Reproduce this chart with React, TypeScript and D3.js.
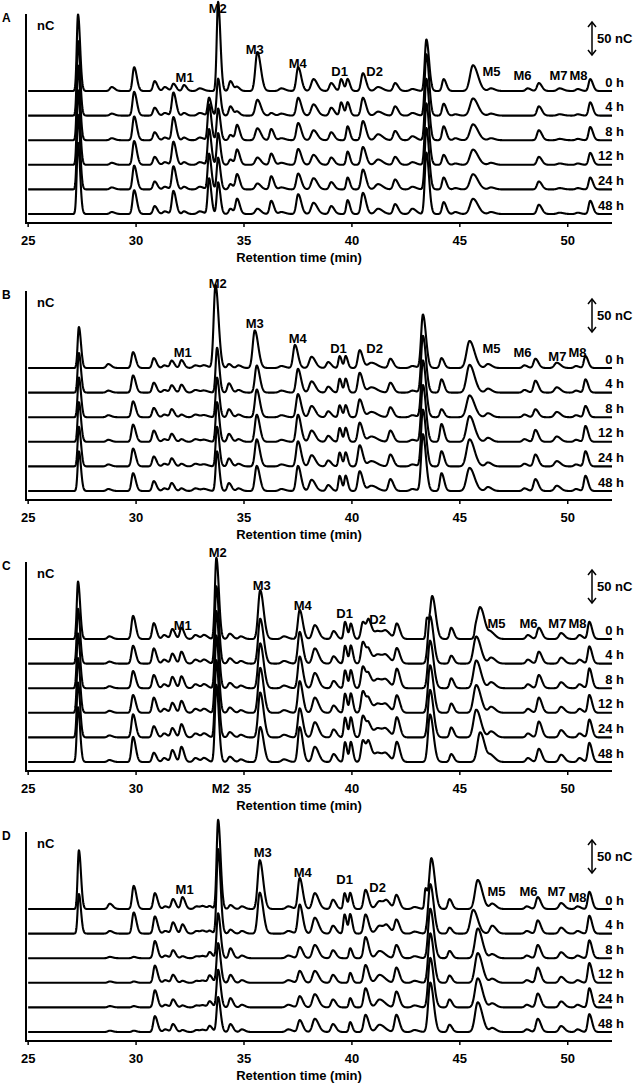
import React from 'react';
import * as d3 from 'd3';

// ---------------- DATA ----------------
const HOURS = ['0 h', '4 h', '8 h', '12 h', '24 h', '48 h'];
const X_TICKS = [25, 30, 35, 40, 45, 50];
const PANEL_IDS = ['A', 'B', 'C', 'D'];
const SCALE_BAR_NC = 50;
const TIME_START = 25.0;
const TIME_END = 52.05;

// [retention time (min), peak sigma (min), heights (nC) for 0,4,8,12,24,48 h]
type Peak = [number, number, number[]];

const PEAKS_A: Peak[] = [
  [27.31, 0.055, [116, 113, 113, 113, 113, 108]],
  [28.87, 0.08, [6, 3, 3, 3, 3, 3]],
  [29.91, 0.07, [36, 36, 36, 36, 36, 36]],
  [30.86, 0.07, [15, 12, 12, 12, 12, 12]],
  [31.33, 0.08, [6, 4, 4, 4, 4, 4]],
  [31.73, 0.07, [11, 35, 35, 35, 35, 35]],
  [32.22, 0.07, [9, 4, 4, 4, 4, 4]],
  [32.95, 0.1, [4, 4, 4, 4, 4, 4]],
  [33.38, 0.06, [0, 27, 54, 54, 54, 54]],
  [33.8, 0.06, [135, 56, 48, 48, 48, 48]],
  [34.37, 0.07, [15, 14, 8, 8, 8, 8]],
  [34.68, 0.07, [6, 6, 23, 23, 23, 23]],
  [35.62, 0.09, [59, 24, 18, 11, 9, 8]],
  [36.26, 0.07, [0, 4, 17, 17, 20, 20]],
  [36.73, 0.1, [4, 3, 3, 3, 3, 3]],
  [37.51, 0.08, [36, 27, 26, 24, 24, 30]],
  [38.22, 0.1, [18, 17, 15, 15, 17, 17]],
  [39.04, 0.08, [12, 12, 12, 11, 11, 12]],
  [39.5, 0.06, [18, 20, 0, 0, 0, 0]],
  [39.8, 0.06, [18, 20, 21, 20, 18, 21]],
  [40.51, 0.08, [27, 27, 29, 27, 30, 32]],
  [41.21, 0.12, [6, 6, 9, 8, 8, 8]],
  [42.0, 0.08, [12, 14, 14, 12, 15, 15]],
  [42.8, 0.1, [3, 4, 6, 4, 4, 8]],
  [43.45, 0.07, [78, 93, 93, 93, 93, 93]],
  [44.25, 0.07, [18, 18, 21, 15, 18, 18]],
  [44.79, 0.08, [0, 2, 3, 2, 2, 3]],
  [45.61, 0.13, [39, 26, 24, 23, 23, 23]],
  [46.44, 0.1, [4, 3, 3, 3, 3, 3]],
  [48.14, 0.08, [4, 0, 0, 0, 0, 0]],
  [48.66, 0.08, [12, 14, 15, 12, 12, 14]],
  [49.62, 0.1, [4, 2, 2, 2, 2, 2]],
  [50.46, 0.08, [3, 2, 2, 2, 2, 2]],
  [51.04, 0.07, [18, 20, 20, 18, 18, 20]],
];

const PEAKS_B: Peak[] = [
  [27.35, 0.055, [62, 60, 60, 60, 60, 60]],
  [28.71, 0.08, [6, 3, 3, 3, 3, 3]],
  [29.86, 0.07, [24, 26, 24, 26, 27, 27]],
  [30.82, 0.07, [15, 15, 14, 17, 15, 15]],
  [31.31, 0.08, [4, 4, 4, 4, 4, 4]],
  [31.65, 0.07, [11, 11, 12, 12, 12, 12]],
  [32.1, 0.07, [12, 12, 4, 4, 4, 4]],
  [32.75, 0.1, [4, 4, 4, 4, 4, 4]],
  [33.15, 0.1, [4, 3, 3, 3, 3, 3]],
  [33.68, 0.08, [126, 0, 0, 0, 0, 0]],
  [33.75, 0.06, [0, 68, 60, 60, 60, 60]],
  [34.3, 0.07, [6, 14, 12, 12, 12, 12]],
  [34.74, 0.08, [4, 4, 4, 4, 4, 4]],
  [35.5, 0.09, [57, 0, 0, 0, 0, 0]],
  [35.59, 0.08, [0, 41, 42, 41, 41, 38]],
  [36.73, 0.1, [3, 3, 3, 3, 3, 3]],
  [37.36, 0.08, [35, 0, 0, 0, 0, 0]],
  [37.5, 0.08, [0, 36, 35, 41, 38, 38]],
  [38.13, 0.1, [17, 17, 17, 17, 17, 17]],
  [38.9, 0.08, [9, 9, 9, 9, 9, 9]],
  [39.43, 0.055, [18, 21, 18, 21, 21, 23]],
  [39.71, 0.055, [18, 21, 18, 21, 21, 23]],
  [40.36, 0.08, [27, 30, 27, 29, 32, 30]],
  [40.9, 0.15, [8, 8, 8, 8, 8, 8]],
  [41.78, 0.08, [14, 15, 15, 17, 18, 18]],
  [42.8, 0.1, [3, 3, 3, 3, 3, 3]],
  [43.29, 0.08, [81, 86, 86, 86, 86, 86]],
  [44.15, 0.07, [15, 20, 12, 27, 23, 27]],
  [45.45, 0.13, [41, 42, 33, 39, 41, 35]],
  [46.3, 0.1, [6, 6, 6, 6, 6, 6]],
  [47.99, 0.08, [4, 4, 4, 4, 4, 4]],
  [48.5, 0.08, [14, 18, 12, 18, 18, 18]],
  [49.49, 0.1, [8, 8, 8, 8, 8, 8]],
  [50.38, 0.08, [3, 3, 3, 3, 3, 3]],
  [50.82, 0.07, [18, 20, 17, 24, 23, 23]],
];

const PEAKS_C: Peak[] = [
  [27.31, 0.055, [87, 83, 83, 83, 83, 83]],
  [28.76, 0.08, [4, 3, 3, 3, 3, 3]],
  [29.86, 0.07, [35, 27, 26, 27, 35, 38]],
  [30.82, 0.07, [24, 23, 20, 23, 17, 14]],
  [31.3, 0.08, [6, 6, 6, 6, 6, 6]],
  [31.68, 0.07, [15, 15, 17, 15, 14, 18]],
  [32.1, 0.07, [17, 18, 18, 18, 20, 23]],
  [32.75, 0.09, [6, 6, 6, 6, 6, 6]],
  [33.15, 0.09, [6, 6, 6, 6, 6, 6]],
  [33.72, 0.065, [123, 117, 117, 117, 117, 117]],
  [34.34, 0.08, [8, 8, 8, 8, 8, 8]],
  [34.85, 0.08, [4, 4, 4, 4, 4, 4]],
  [35.75, 0.09, [74, 68, 68, 68, 68, 53]],
  [36.85, 0.1, [4, 4, 4, 4, 4, 4]],
  [37.58, 0.08, [44, 48, 48, 48, 44, 53]],
  [38.28, 0.1, [21, 23, 23, 23, 23, 23]],
  [39.15, 0.08, [12, 11, 11, 11, 12, 12]],
  [39.68, 0.055, [26, 27, 27, 29, 30, 30]],
  [39.95, 0.055, [23, 27, 27, 29, 30, 30]],
  [40.51, 0.08, [26, 33, 33, 33, 33, 33]],
  [40.78, 0.08, [26, 18, 18, 18, 18, 27]],
  [41.2, 0.15, [12, 14, 14, 14, 14, 14]],
  [41.59, 0.12, [9, 9, 9, 9, 9, 9]],
  [42.08, 0.08, [23, 23, 29, 26, 30, 30]],
  [43.47, 0.045, [30, 0, 0, 0, 0, 0]],
  [43.62, 0.09, [0, 72, 72, 72, 72, 72]],
  [43.72, 0.09, [65, 0, 0, 0, 0, 0]],
  [44.6, 0.07, [17, 12, 15, 14, 15, 12]],
  [45.73, 0.045, [11, 0, 0, 0, 0, 0]],
  [45.76, 0.12, [0, 41, 42, 42, 42, 0]],
  [45.94, 0.12, [48, 0, 0, 0, 0, 45]],
  [46.45, 0.11, [9, 9, 9, 9, 9, 9]],
  [48.15, 0.08, [6, 6, 6, 6, 6, 6]],
  [48.66, 0.08, [17, 18, 20, 23, 24, 20]],
  [49.69, 0.09, [9, 9, 9, 9, 11, 11]],
  [50.54, 0.08, [6, 6, 6, 6, 6, 6]],
  [51.0, 0.07, [26, 26, 30, 27, 27, 29]],
];

const PEAKS_D: Peak[] = [
  [27.35, 0.055, [89, 60, 0, 0, 0, 0]],
  [28.78, 0.08, [8, 4, 2, 2, 2, 2]],
  [29.89, 0.07, [35, 32, 2, 2, 2, 2]],
  [30.87, 0.07, [24, 26, 26, 26, 26, 24]],
  [31.35, 0.08, [4, 4, 4, 4, 4, 4]],
  [31.71, 0.07, [15, 17, 12, 12, 12, 12]],
  [32.15, 0.07, [18, 14, 3, 3, 3, 3]],
  [32.8, 0.09, [4, 4, 3, 3, 3, 3]],
  [33.1, 0.09, [4, 4, 3, 3, 3, 3]],
  [33.41, 0.07, [4, 4, 9, 11, 9, 9]],
  [33.8, 0.065, [135, 128, 68, 60, 57, 53]],
  [34.37, 0.07, [6, 6, 15, 12, 14, 12]],
  [34.9, 0.08, [4, 4, 4, 4, 4, 4]],
  [35.73, 0.09, [74, 62, 0, 0, 0, 0]],
  [37.05, 0.1, [4, 4, 4, 4, 4, 4]],
  [37.58, 0.08, [47, 44, 17, 18, 17, 18]],
  [38.28, 0.1, [24, 24, 20, 18, 20, 20]],
  [39.12, 0.08, [14, 12, 12, 12, 12, 12]],
  [39.66, 0.055, [24, 29, 0, 0, 0, 0]],
  [39.92, 0.055, [24, 29, 15, 15, 14, 15]],
  [40.63, 0.08, [29, 29, 32, 27, 29, 26]],
  [41.28, 0.14, [12, 12, 11, 12, 12, 11]],
  [41.62, 0.1, [9, 9, 0, 0, 0, 0]],
  [42.06, 0.08, [21, 21, 20, 23, 24, 26]],
  [42.9, 0.1, [3, 3, 3, 3, 3, 3]],
  [43.41, 0.045, [30, 0, 0, 0, 0, 0]],
  [43.63, 0.09, [0, 75, 75, 75, 75, 75]],
  [43.68, 0.09, [77, 0, 0, 0, 0, 0]],
  [44.52, 0.07, [15, 9, 11, 11, 12, 11]],
  [45.62, 0.12, [0, 36, 0, 0, 0, 0]],
  [45.83, 0.12, [44, 0, 45, 45, 44, 45]],
  [46.5, 0.1, [8, 12, 6, 6, 6, 6]],
  [48.1, 0.08, [4, 4, 4, 4, 4, 4]],
  [48.61, 0.08, [18, 20, 20, 23, 21, 20]],
  [49.69, 0.09, [9, 9, 9, 9, 9, 9]],
  [50.45, 0.08, [4, 4, 4, 4, 4, 4]],
  [51.0, 0.07, [26, 27, 27, 30, 29, 27]],
];

// [label, retention time (min), level in nC above the 0 h baseline]
type PeakLabel = [string, number, number];

const LABELS_A: PeakLabel[] = [
  ['M1', 32.25, 21], ['M2', 33.78, 125], ['M3', 35.5, 63], ['M4', 37.49, 42],
  ['D1', 39.43, 29], ['D2', 41.05, 29], ['M5', 46.47, 29], ['M6', 47.9, 23],
  ['M7', 49.57, 23], ['M8', 50.5, 23],
];
const LABELS_B: PeakLabel[] = [
  ['M1', 32.16, 24], ['M2', 33.78, 128], ['M3', 35.5, 68], ['M4', 37.49, 45],
  ['D1', 39.38, 29], ['D2', 41.05, 29], ['M5', 46.47, 29], ['M6', 47.9, 23],
  ['M7', 49.52, 17], ['M8', 50.45, 24],
];
const LABELS_C: PeakLabel[] = [
  ['M1', 32.16, 21], ['M2', 33.78, 131], ['M3', 35.82, 81], ['M4', 37.72, 51],
  ['D1', 39.66, 39], ['D2', 41.19, 29], ['M5', 46.7, 24], ['M6', 48.18, 24],
  ['M7', 49.52, 24], ['M8', 50.45, 24],
];
const LABELS_D: PeakLabel[] = [
  ['M1', 32.25, 29], ['M3', 35.87, 86], ['M4', 37.72, 56],
  ['D1', 39.66, 45], ['D2', 41.19, 33], ['M5', 46.7, 27], ['M6', 48.18, 27],
  ['M7', 49.48, 27], ['M8', 50.45, 18],
];
// labels written under the time axis: [label, retention time]
const AXIS_LABELS_C: [string, number][] = [['M2', 33.92]];

const PANEL_PEAKS = [PEAKS_A, PEAKS_B, PEAKS_C, PEAKS_D];
const PANEL_LABELS = [LABELS_A, LABELS_B, LABELS_C, LABELS_D];
const PANEL_AXIS_LABELS: [string, number][][] = [[], [], AXIS_LABELS_C, []];

// ---------------- LAYOUT ----------------
const W = 633;
const H = 1083;
const AXIS_Y = [223, 500, 771, 1041];
const BASE0 = 132; // 0 h baseline above the axis (px)
const TRACE_GAP = 24.6;
const TAIL = 1.75; // peak tailing factor
const FONT = '"Liberation Sans", Arial, Helvetica, sans-serif';

const x = d3.scaleLinear().domain([24.9, 52.05]).range([26, 612]);
const yNc = d3.scaleLinear().domain([0, 50]).range([0, -33]);

const TIMES = d3.range(TIME_START, TIME_END + 1e-9, 0.01);

function signal(peaks: Peak[], k: number, t: number): number {
  let s = 0;
  for (const [t0, w, hs] of peaks) {
    const h = hs[k];
    if (!h) continue;
    const d = t - t0;
    const sg = d < 0 ? w * 1.05 : w * TAIL;
    if (Math.abs(d) > 6 * sg) continue;
    s += h * Math.exp((-d * d) / (2 * sg * sg));
  }
  return s;
}

function Panel({ idx }: { idx: number }) {
  const ay = AXIS_Y[idx];
  const peaks = PANEL_PEAKS[idx];
  const labels = PANEL_LABELS[idx];
  const base0 = -BASE0;
  const traces = HOURS.map((hr, k) => {
    const base = base0 + k * TRACE_GAP;
    const line = d3
      .line<number>()
      .x((t) => x(t))
      .y((t) => base + yNc(signal(peaks, k, t)));
    return { hr, base, d: line(TIMES) || '' };
  });
  const barTop = -201;
  const barBot = barTop + Math.abs(yNc(SCALE_BAR_NC));
  const textStyle = { fontFamily: FONT, fontWeight: 700, fontSize: 13 } as const;
  return (
    <g transform={`translate(0,${ay})`}>
      {/* axes */}
      <line x1={x.range()[0]} x2={x.range()[0]} y1={-209} y2={0} stroke="#000" strokeWidth={2} />
      <line x1={x.range()[0] - 1} x2={x.range()[1]} y1={0} y2={0} stroke="#000" strokeWidth={2} />
      {X_TICKS.map((t) => (
        <g key={t}>
          <line x1={x(t)} x2={x(t)} y1={0} y2={4} stroke="#000" strokeWidth={1.5} />
          <text x={x(t)} y={17} textAnchor="middle" dominantBaseline="central" style={textStyle}>
            {t}
          </text>
        </g>
      ))}
      <text x={299} y={34} textAnchor="middle" dominantBaseline="central" style={textStyle}>
        Retention time (min)
      </text>
      <text x={2} y={-205} dominantBaseline="central" style={{ ...textStyle, fontSize: 12 }}>
        {PANEL_IDS[idx]}
      </text>
      <text x={37} y={-198} dominantBaseline="central" style={textStyle}>
        nC
      </text>
      {/* traces */}
      {traces.map((tr) => (
        <path key={tr.hr} d={tr.d} fill="none" stroke="#000" strokeWidth={2.1} strokeLinejoin="round" />
      ))}
      {traces.map((tr) => (
        <text key={tr.hr + 'l'} x={624} y={tr.base - 9} textAnchor="end" dominantBaseline="central" style={textStyle}>
          {tr.hr}
        </text>
      ))}
      {/* peak labels */}
      {labels.map(([lab, t, lvl], i) => (
        <text key={i} x={x(t)} y={base0 + yNc(lvl)} textAnchor="middle" dominantBaseline="central" style={textStyle}>
          {lab}
        </text>
      ))}
      {PANEL_AXIS_LABELS[idx].map(([lab, t], i) => (
        <text key={'a' + i} x={x(t)} y={17} textAnchor="middle" dominantBaseline="central" style={textStyle}>
          {lab}
        </text>
      ))}
      {/* scale bar */}
      <line x1={592} x2={592} y1={barTop + 1} y2={barBot - 1} stroke="#000" strokeWidth={1.5} />
      <path d={`M588,${barTop + 5} L592,${barTop} L596,${barTop + 5}`} fill="none" stroke="#000" strokeWidth={1.5} />
      <path d={`M588,${barBot - 5} L592,${barBot} L596,${barBot - 5}`} fill="none" stroke="#000" strokeWidth={1.5} />
      <text x={597} y={(barTop + barBot) / 2} dominantBaseline="central" style={textStyle}>
        {SCALE_BAR_NC} nC
      </text>
    </g>
  );
}

export default function App() {
  return (
    <svg
      width={W}
      height={H}
      viewBox={`0 0 ${W} ${H}`}
      style={{ position: 'absolute', left: 0, top: 0, background: '#fff' }}
    >
      <rect width={W} height={H} fill="#fff" />
      {PANEL_IDS.map((p, i) => (
        <Panel key={p} idx={i} />
      ))}
    </svg>
  );
}
